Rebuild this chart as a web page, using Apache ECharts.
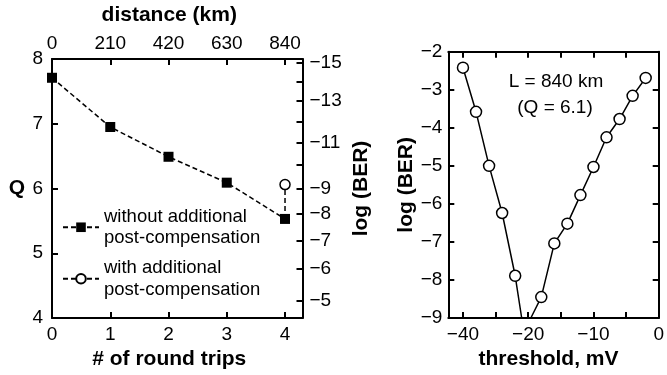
<!DOCTYPE html>
<html>
<head>
<meta charset="utf-8">
<script src="https://cdn.jsdelivr.net/npm/echarts@6/dist/echarts.min.js"></script>
<style>
html, body { margin: 0; padding: 0; background: #fff; }
#chart { width: 667px; height: 375px; }
</style>
</head>
<body>
<div id="chart"></div>
<script>
// left panel: Q versus number of round trips
var roundTrips = [0, 1, 2, 3, 4];
var qWithout = [7.71, 6.95, 6.49, 6.09, 5.53];
var qWith = [6.06];                 // at 4 round trips
var distanceTicks = [0, 210, 420, 630, 840];
var qTicks = [4, 5, 6, 7, 8];
var berTicks = [-15, -14, -13, -12, -11, -10, -9, -8, -7, -6, -5];
var berLabels = [-15, -13, -11, -9, -8, -7, -6, -5];

// right panel: log(BER) versus decision threshold
var thrLeft = [-30, -28, -26, -24, -22];
var berLeft = [-2.42, -3.58, -5.0, -6.24, -7.89];
var thrLeftEnd = [-21.0, -9];
var thrRight = [-18, -16, -14, -12, -10, -8, -6, -4, -2];
var berRight = [-8.45, -7.04, -6.52, -5.77, -5.03, -4.25, -3.77, -3.16, -2.69];
var thrRightStart = [-19.6, -9];
var thrTickValues = [-30, -25, -20, -15, -10, -5, 0];
var thrLabelValues = [-30, -20, -10, 0];
var thrLabelTexts = ['\u221240', '\u221220', '\u221210', '0'];
var logBerTicks = [-9, -8, -7, -6, -5, -4, -3, -2];

var FONT = '"Liberation Sans", Arial, Helvetica, sans-serif';

function minus(v) {
	return v < 0 ? '\u2212' + Math.abs(v) : String(v);
}
// complementary error function (Numerical Recipes erfcc)
function erfc(x) {
	var z = Math.abs(x), t = 1 / (1 + 0.5 * z);
	var r = t * Math.exp(-z * z - 1.26551223 + t * (1.00002368 + t * (0.37409196 + t * (0.09678418 +
		t * (-0.18628806 + t * (0.27886807 + t * (-1.13520398 + t * (1.48851587 +
		t * (-0.82215223 + t * 0.17087277)))))))));
	return x >= 0 ? r : 2 - r;
}
function logBer(q) {
	return Math.log(0.5 * erfc(q / Math.SQRT2)) / Math.LN10;
}
function qFromLogBer(b) {
	var lo = 2, hi = 10;
	for (var i = 0; i < 60; i++) {
		var mid = (lo + hi) / 2;
		if (logBer(mid) > b) lo = mid; else hi = mid;
	}
	return (lo + hi) / 2;
}
var berTickQ = berTicks.map(qFromLogBer);
var berLabelQ = berLabels.map(qFromLogBer);

function pairs(xs, ys) {
	return xs.map(function (x, i) { return [x, ys[i]]; });
}

var tickStyle = { show: true, inside: true, length: 6, lineStyle: { color: '#000', width: 2 } };
var lineStyle = { show: true, onZero: false, lineStyle: { color: '#000', width: 2 } };
var labelStyle = { color: '#000', fontSize: 19, fontFamily: FONT };
var nameStyle = { color: '#000', fontSize: 21, fontWeight: 'bold', fontFamily: FONT };

var chart = echarts.init(document.getElementById('chart'), null, { renderer: 'canvas' });

var option = {
	animation: false,
	backgroundColor: '#fff',
	textStyle: { fontFamily: FONT },
	grid: [
		{ left: 52, right: 364.5, top: 58.5, bottom: 57 },
		{ left: 448.3, right: 3.7, top: 51.7, bottom: 56.7 }
	],
	legend: {
		orient: 'vertical',
		left: 62,
		top: 195,
		padding: 0,
		itemGap: -13,
		itemWidth: 36,
		itemHeight: 12,
		textStyle: { color: '#000', fontSize: 18.5, lineHeight: 21.5, fontFamily: FONT, padding: [21.5, 0, 0, 0] },
		data: ['without additional\npost-compensation', 'with additional\npost-compensation']
	},
	xAxis: [
		{
			gridIndex: 0, type: 'value', position: 'bottom', min: 0, max: 4.3,
			axisLine: lineStyle,
			axisTick: Object.assign({}, tickStyle, { customValues: roundTrips }),
			axisLabel: Object.assign({}, labelStyle, { customValues: roundTrips, margin: 7 }),
			splitLine: { show: false },
			name: '# of round trips', nameLocation: 'middle', nameGap: 31,
			nameTextStyle: Object.assign({}, nameStyle, { padding: [0, 16, 0, 0] })
		},
		{
			gridIndex: 0, type: 'value', position: 'top', min: 0, max: 903,
			axisLine: lineStyle,
			axisTick: Object.assign({}, tickStyle, { customValues: distanceTicks }),
			axisLabel: Object.assign({}, labelStyle, { customValues: distanceTicks, margin: 6 }),
			splitLine: { show: false },
			name: 'distance (km)', nameLocation: 'middle', nameGap: 33,
			nameTextStyle: Object.assign({}, nameStyle, { padding: [0, 16, 0, 0] })
		},
		{
			gridIndex: 1, type: 'value', position: 'bottom', min: -32.25, max: 0,
			axisLine: lineStyle,
			axisTick: Object.assign({}, tickStyle, { customValues: thrTickValues }),
			axisLabel: Object.assign({}, labelStyle, {
				customValues: thrLabelValues, margin: 7,
				formatter: function (v) { return thrLabelTexts[thrLabelValues.indexOf(v)]; }
			}),
			splitLine: { show: false },
			name: 'threshold, mV', nameLocation: 'middle', nameGap: 31,
			nameTextStyle: Object.assign({}, nameStyle, { padding: [0, 10, 0, 0] })
		},
		{
			gridIndex: 1, type: 'value', position: 'top', min: -32.25, max: 0,
			axisLine: lineStyle,
			axisTick: Object.assign({}, tickStyle, { customValues: thrTickValues }),
			axisLabel: { show: false },
			splitLine: { show: false }
		}
	],
	yAxis: [
		{
			gridIndex: 0, type: 'value', position: 'left', min: 4, max: 8,
			axisLine: lineStyle,
			axisTick: Object.assign({}, tickStyle, { customValues: qTicks }),
			axisLabel: Object.assign({}, labelStyle, { customValues: qTicks, margin: 9 }),
			splitLine: { show: false },
			name: 'Q', nameLocation: 'middle', nameRotate: 0, nameGap: 27,
			nameTextStyle: nameStyle
		},
		{
			gridIndex: 0, type: 'value', position: 'right', min: 4, max: 8,
			axisLine: lineStyle,
			axisTick: Object.assign({}, tickStyle, { customValues: berTickQ }),
			axisLabel: Object.assign({}, labelStyle, {
				customValues: berLabelQ, margin: 7,
				formatter: function (v) { return minus(Math.round(logBer(v))); }
			}),
			splitLine: { show: false },
			name: 'log (BER)', nameLocation: 'middle', nameRotate: 90, nameGap: 48,
			nameTextStyle: nameStyle
		},
		{
			gridIndex: 1, type: 'value', position: 'left', min: -9, max: -2,
			axisLine: lineStyle,
			axisTick: Object.assign({}, tickStyle, { customValues: logBerTicks }),
			axisLabel: Object.assign({}, labelStyle, { customValues: logBerTicks, margin: 6, formatter: minus }),
			splitLine: { show: false },
			name: 'log (BER)', nameLocation: 'middle', nameRotate: 90, nameGap: 31,
			nameTextStyle: nameStyle
		},
		{
			gridIndex: 1, type: 'value', position: 'right', min: -9, max: -2,
			axisLine: lineStyle,
			axisTick: Object.assign({}, tickStyle, { customValues: logBerTicks }),
			axisLabel: { show: false },
			splitLine: { show: false }
		}
	],
	graphic: [
		{ type: 'text', x: 556, y: 81.7, style: { text: 'L = 840 km', fill: '#000', fontSize: 19, fontFamily: FONT, align: 'center', verticalAlign: 'middle' } },
		{ type: 'text', x: 555, y: 108, style: { text: '(Q = 6.1)', fill: '#000', fontSize: 19, fontFamily: FONT, align: 'center', verticalAlign: 'middle' } }
	],
	series: [
		{
			name: 'without additional\npost-compensation', type: 'line', xAxisIndex: 0, yAxisIndex: 0,
			symbol: 'rect', symbolSize: 10,
			itemStyle: { color: '#000' },
			lineStyle: { color: '#000', width: 1.5, type: [5, 3] },
			data: pairs(roundTrips, qWithout)
		},
		{
			name: 'with additional\npost-compensation', type: 'line', xAxisIndex: 0, yAxisIndex: 0,
			symbol: 'circle', symbolSize: 10,
			itemStyle: { color: '#fff', borderColor: '#000', borderWidth: 1.5 },
			lineStyle: { color: '#000', width: 1.5, type: [5, 3] },
			data: [
				{ value: [roundTrips[4], qWithout[4]], symbol: 'none' },
				[roundTrips[4], qWith[0]]
			]
		},
		{
			name: 'left branch', type: 'line', xAxisIndex: 2, yAxisIndex: 2,
			symbol: 'circle', symbolSize: 11,
			itemStyle: { color: '#fff', borderColor: '#000', borderWidth: 1.5 },
			lineStyle: { color: '#000', width: 1.5 },
			data: pairs(thrLeft, berLeft).concat([{ value: thrLeftEnd, symbol: 'none' }])
		},
		{
			name: 'right branch', type: 'line', xAxisIndex: 2, yAxisIndex: 2,
			symbol: 'circle', symbolSize: 11,
			itemStyle: { color: '#fff', borderColor: '#000', borderWidth: 1.5 },
			lineStyle: { color: '#000', width: 1.5 },
			data: [{ value: thrRightStart, symbol: 'none' }].concat(pairs(thrRight, berRight))
		}
	]
};
chart.setOption(option);
</script>
</body>
</html>
